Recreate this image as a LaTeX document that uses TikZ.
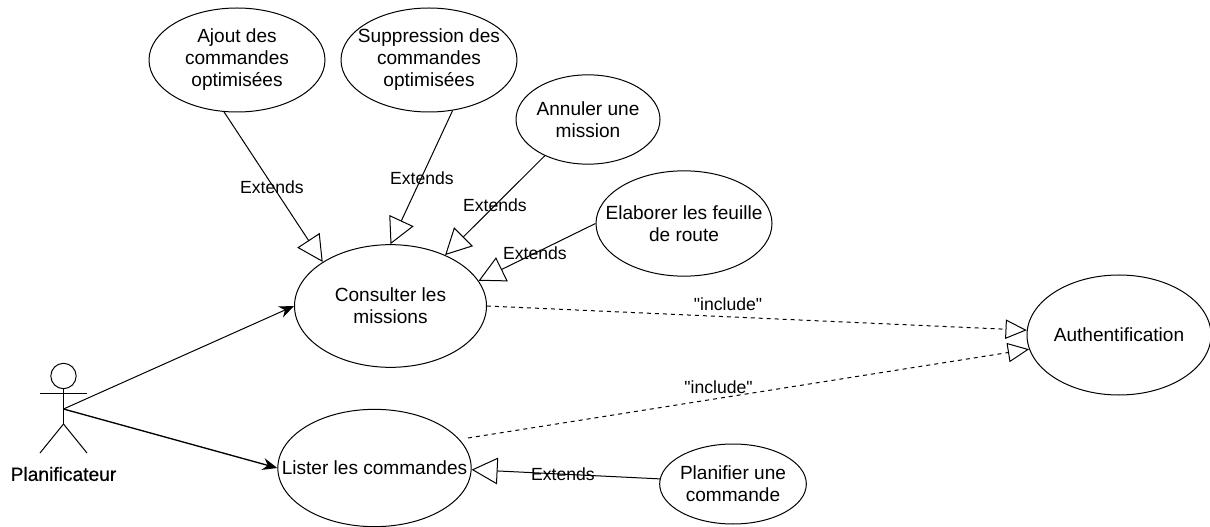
\documentclass[tikz,border=0pt]{standalone}
\usepackage{fontspec}
\setmainfont{Liberation Sans}
\newfontfamily\epais[FakeBold=0.6]{Liberation Sans}
\newfontfamily\brut{Liberation Sans}
\usetikzlibrary{arrows.meta, shapes.geometric}

\tikzset{
    usecase/.style={draw=black, fill=white, ellipse, inner sep=-40pt, align=center, font=\fontsize{14.3pt}{16.5pt}\selectfont},
    extends/.style={-{Triangle[open, length=19.5pt, width=20pt]}, black, line width=0.75pt},
    includes/.style={dashed, -{Triangle[open, length=16pt, width=14.5pt]}, black, line width=0.75pt},
    assoc/.style={-{Stealth[length=11pt, width=9pt]}, black, line width=0.75pt},
    edgelabel/.style={font=\fontsize{13.2pt}{15pt}\selectfont, inner sep=0pt},
    inclabel/.style={font=\fontsize{13.2pt}{15pt}\brut, inner sep=0pt}
}

\begin{document}
\begin{tikzpicture}[x=0.75pt, y=-0.75pt, line width=0.75pt]
        \useasboundingbox (0,0) rectangle (1210,527);

        % use cases
        \node[usecase, minimum width=132pt, minimum height=78pt] (ajout) at (237,60) {Ajout des\\commandes\\optimisées};
        \node[usecase, minimum width=132pt, minimum height=78pt] (suppression) at (429,60) {Suppression des\\commandes\\optimisées};
        \node[usecase, minimum width=108pt, minimum height=67pt] (annuler) at (588,119.5) {Annuler une\\mission};
        \node[usecase, minimum width=132pt, minimum height=79pt] (elaborer) at (684,223.5) {Elaborer les feuille\\de route};
        \node[usecase, minimum width=144pt, minimum height=92pt] (consulter) at (390.5,306) {Consulter les\\missions};
        \node[usecase, minimum width=138pt, minimum height=90pt] (authentification) at (1119,335) {Authentification};
        \node[usecase, minimum width=145pt, minimum height=88pt] (lister) at (374.5,468) {Lister les commandes};
        \node[usecase, minimum width=110pt, minimum height=60pt] (planifier) at (733,484) {Planifier une\\commande};

        % actor
        \node[draw, circle, minimum size=19pt, inner sep=0pt] (tete) at (63.5,376) {};
        \coordinate (bassin) at (63.5,424);
        \coordinate (centre) at (63.5,409);
        \coordinate (depart) at (468,438);
        \draw (tete) -- (bassin);
        \draw (40,393) -- (87,393);
        \draw (bassin) -- (40,453);
        \draw (bassin) -- (87,453);
        \node[font=\fontsize{14.4pt}{16pt}\epais] (planificateur) at (63.5,474) {Planificateur};

        % connectors
        \draw[assoc] (centre) -- (consulter.west);
        \draw[assoc, line width=1pt] (centre) -- (lister.west);

        \draw[extends] (ajout.-104) -- (consulter.147);
        \draw[extends] (suppression.-65) -- (consulter.north);
        \draw[extends] (annuler.-140) -- (consulter.43);
        \draw[extends] (elaborer.west) -- (consulter.16);
        \draw[extends] (planifier.176) -- (lister.-1);

        \draw[includes] (consulter.east) -- (authentification.177);
        \draw[includes] (depart) -- (authentification.189);

        % labels
        \node[edgelabel] (l1) at (272,187) {Extends};
        \node[edgelabel] (l2) at (422,178) {Extends};
        \node[edgelabel] (l3) at (495,205) {Extends};
        \node[edgelabel] (l4) at (535,253) {Extends};
        \node[edgelabel] (l5) at (563,474) {Extends};
        \node[inclabel] (l6) at (728,304) {"include"};
        \node[inclabel] (l7) at (718.5,387) {"include"};
    \end{tikzpicture}
\end{document}
